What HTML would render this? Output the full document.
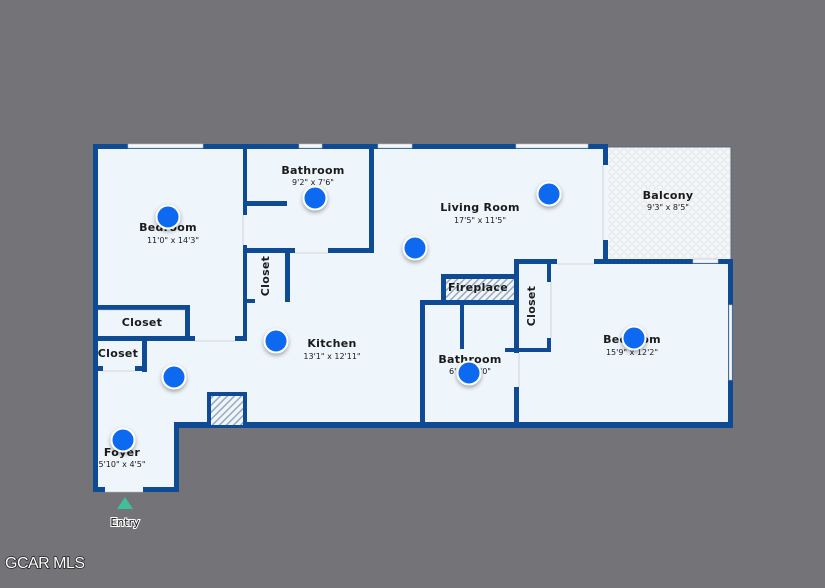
<!DOCTYPE html>
<html><head><meta charset="utf-8"><style>
html,body{margin:0;padding:0;background:#747378;}
svg{display:block}
text{font-family:"DejaVu Sans","Liberation Sans",sans-serif;fill:#1a1a1a;text-anchor:middle}
.n{font-size:11px;font-weight:bold;letter-spacing:0.3px}
.d{font-size:8px}
</style></head><body>
<svg width="825" height="588" viewBox="0 0 825 588" xmlns="http://www.w3.org/2000/svg">
<defs>
<pattern id="h" width="5" height="5" patternUnits="userSpaceOnUse" patternTransform="rotate(45)">
<rect width="5" height="5" fill="#eef5fb"/><rect width="1.5" height="5" fill="#9aa9bb"/></pattern>
<pattern id="tile" width="8" height="8" patternUnits="userSpaceOnUse">
<rect width="8" height="8" fill="#f4f6f8"/><circle cx="4" cy="4" r="3" fill="none" stroke="#e2e6ea" stroke-width="1"/></pattern>
<filter id="sh" x="-50%" y="-50%" width="200%" height="200%"><feDropShadow dx="0" dy="2" stdDeviation="2" flood-color="#000" flood-opacity="0.35"/></filter>
</defs>
<rect width="825" height="588" fill="#747378"/>
<!-- balcony -->
<rect x="606" y="147" width="125" height="115" fill="url(#tile)" stroke="#5a6a80" stroke-width="1"/>
<!-- floor -->
<path d="M95 147 H606 V261 H731 V426 H177 V490 H95 Z" fill="#eef5fb"/>
<g fill="#0f4a94">
<!-- outer walls -->
<rect x="93" y="144" width="515" height="5"/>
<rect x="93" y="144" width="5" height="348"/>
<rect x="93" y="487" width="86" height="5"/>
<rect x="174" y="423" width="5" height="69"/>
<rect x="174" y="422" width="559" height="6"/>
<rect x="603" y="144" width="5" height="118"/>
<rect x="514" y="259" width="219" height="5"/>
<rect x="728" y="259" width="5" height="169"/>
<!-- bedroom1 / bathroom -->
<rect x="243" y="144" width="4" height="197"/>
<rect x="369" y="144" width="5" height="109"/>
<rect x="243" y="248" width="131" height="5"/>
<rect x="247" y="201" width="40" height="5"/>
<rect x="285" y="251" width="5" height="51"/>
<rect x="247" y="299" width="8" height="4"/>
<!-- closets left -->
<rect x="93" y="305" width="97" height="5"/>
<rect x="185" y="305" width="5" height="36"/>
<rect x="93" y="336" width="154" height="5"/>
<rect x="142" y="341" width="5" height="31"/>
<rect x="93" y="366" width="54" height="5"/>
<!-- hatched box -->
<rect x="207" y="392" width="40" height="33"/>
<!-- bathroom2 / fireplace / closet3 -->
<rect x="420" y="300" width="5" height="125"/>
<rect x="420" y="300" width="98" height="5"/>
<rect x="460" y="305" width="4" height="44"/>
<rect x="441" y="274" width="77" height="5"/>
<rect x="441" y="274" width="5" height="30"/>
<rect x="514" y="259" width="5" height="168"/>
<rect x="547" y="259" width="4" height="93"/>
<rect x="505" y="348" width="46" height="4"/>
</g>
<rect x="446" y="279" width="68" height="21" fill="url(#h)"/>
<rect x="211" y="396" width="32" height="29" fill="url(#h)"/>
<!-- doors/windows -->
<g fill="#f4f7fa" stroke="#b8bcc2" stroke-width="0.6">
<rect x="128" y="144" width="75" height="4"/>
<rect x="299" y="144" width="23" height="4"/>
<rect x="378" y="144" width="34" height="4"/>
<rect x="516" y="144" width="72" height="4"/>
<rect x="693" y="259" width="25" height="4"/>
<rect x="729" y="305" width="3" height="75"/>
</g>
<g fill="#eef5fb">
<rect x="243" y="215" width="4" height="30"/>
<rect x="295" y="248" width="33" height="5"/>
<rect x="195" y="336" width="40" height="5"/>
<rect x="103" y="366" width="32" height="5"/>
<rect x="105" y="487" width="38" height="5"/>
<rect x="603" y="165" width="5" height="75"/>
<rect x="557" y="259" width="37" height="5"/>
<rect x="547" y="282" width="4" height="56"/>
<rect x="514" y="353" width="5" height="34"/>
</g>
<g stroke="#b8bcc2" stroke-width="0.6" fill="none">
<line x1="243" y1="215" x2="243" y2="245"/><line x1="295" y1="253" x2="328" y2="253"/>
<line x1="195" y1="341" x2="235" y2="341"/><line x1="103" y1="371" x2="135" y2="371"/>
<line x1="105" y1="492" x2="143" y2="492"/><line x1="603" y1="165" x2="603" y2="240"/>
<line x1="557" y1="264" x2="594" y2="264"/><line x1="551" y1="282" x2="551" y2="338"/>
<line x1="519" y1="353" x2="519" y2="387"/><line x1="98" y1="310" x2="185" y2="310"/>
</g>
<!-- labels -->
<text class="n" x="168" y="231">Bedroom</text><text class="d" x="173" y="243">11'0" x 14'3"</text>
<text class="n" x="313" y="174">Bathroom</text><text class="d" x="313" y="185">9'2" x 7'6"</text>
<text class="n" x="480" y="211">Living Room</text><text class="d" x="480" y="223">17'5" x 11'5"</text>
<text class="n" x="668" y="199">Balcony</text><text class="d" x="668" y="210">9'3" x 8'5"</text>
<text class="n" transform="translate(269,276) rotate(-90)">Closet</text>
<text class="n" x="142" y="326">Closet</text>
<text class="n" x="118" y="357">Closet</text>
<text class="n" x="478" y="291">Fireplace</text>
<text class="n" transform="translate(535,306) rotate(-90)">Closet</text>
<text class="n" x="332" y="347">Kitchen</text><text class="d" x="332" y="359">13'1" x 12'11"</text>
<text class="n" x="470" y="363">Bathroom</text><text class="d" x="470" y="374">6'1" x 8'0"</text>
<text class="n" x="632" y="343">Bedroom</text><text class="d" x="632" y="355">15'9" x 12'2"</text>
<text class="n" x="122" y="456">Foyer</text><text class="d" x="122" y="467">5'10" x 4'5"</text>
<polygon points="125,497 133,509 117,509" fill="#3fbf9a"/>
<text x="125" y="526" style="font-size:11px;fill:#111;stroke:#fff;stroke-width:2;paint-order:stroke">Entry</text>
<text x="5" y="568" style="text-anchor:start;font-family:'Liberation Sans',sans-serif;font-size:16px;fill:#fff;stroke:#222;stroke-width:1.5;paint-order:stroke;letter-spacing:-0.5px">GCAR MLS</text>
<!-- dots -->
<g fill="#0a6af0" stroke="#fff" stroke-width="2" filter="url(#sh)">
<circle cx="168" cy="217" r="11.5"/><circle cx="315" cy="198" r="11.5"/>
<circle cx="415" cy="248" r="11.5"/><circle cx="549" cy="194" r="11.5"/>
<circle cx="276" cy="341" r="11.5"/><circle cx="174" cy="377" r="11.5"/>
<circle cx="123" cy="440" r="11.5"/><circle cx="469" cy="373" r="11.5"/>
<circle cx="634" cy="338" r="11.5"/>
</g>
</svg>
</body></html>
